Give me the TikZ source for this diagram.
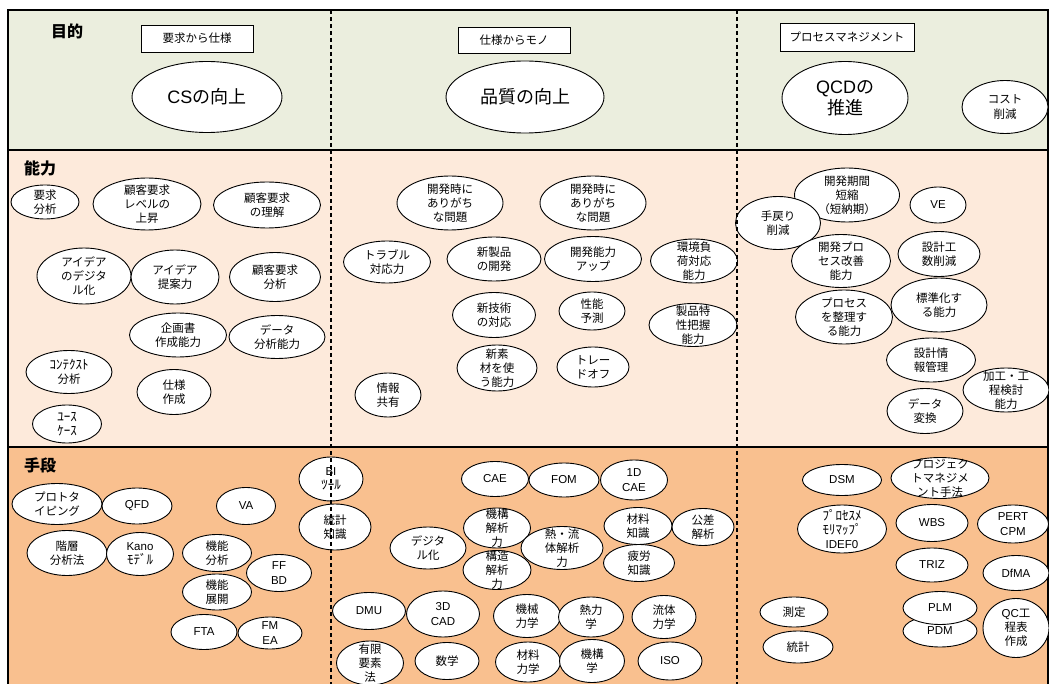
\documentclass[tikz,border=0pt]{standalone}
\usepackage{fontspec}
\setmainfont{Noto Sans CJK JP}
\newfontfamily\latf{Liberation Sans}
\usetikzlibrary{shapes.geometric}
\definecolor{bandA}{HTML}{EBEEDE}
\definecolor{bandB}{HTML}{FDEADB}
\definecolor{bandC}{HTML}{F9C08F}
\newcommand\La[1]{{\latf #1}}
\newcommand\hw[1]{{\fontsize{13}{13.5}\selectfont #1}}
\tikzset{
  elshape/.style={ellipse, draw=black, fill=white, line width=0.9pt, inner sep=0pt},
  eltext/.style={align=center, inner sep=0pt, font=\fontsize{11.5}{14.2}\selectfont},
  bigtext/.style={align=center, inner sep=0pt, font=\fontsize{18}{21}\selectfont},
  tagbox/.style={rectangle, draw=black, fill=white, line width=0.9pt, inner sep=0pt, font=\fontsize{11.5}{14}\selectfont},
  head/.style={inner sep=0pt, font=\bfseries\fontsize{16}{18}\selectfont},
  frameline/.style={line width=1.4pt, black},
  divider/.style={line width=1.2pt, black, dash pattern=on 4pt off 3pt},
}
% name, x, y, width, height, text
\newcommand\elnode[6]{%
  \node[elshape, minimum width=#4pt, minimum height=#5pt] (#1) at (#2,#3) {};
  \node[eltext] (#1t) at (#1.center) {#6};}
\newcommand\bignode[6]{%
  \node[elshape, minimum width=#4pt, minimum height=#5pt] (#1) at (#2,#3) {};
  \node[bigtext] (#1t) at (#1.center) {#6};}
\begin{document}
\begin{tikzpicture}[x=1pt,y=-1pt]
\useasboundingbox (0,0) rectangle (1049,684);
\begin{scope}
\clip (0,0) rectangle (1049,684);
% bands
\fill[bandA] (8,10) rectangle (1048,150);
\fill[bandB] (8,150) rectangle (1048,447);
\fill[bandC] (8,447) rectangle (1048,690);
\draw[frameline] (8,690) -- (8,10) -- (1048,10) -- (1048,690);
\draw[frameline] (8,150) -- (1048,150);
\draw[frameline] (8,447) -- (1048,447);

% headings
\node[head] (h1) at (67,31) {目的};
\node[head] (h2) at (40,168) {能力};
\node[head] (h3) at (40,465) {手段};

% purpose row
\node[tagbox, minimum width=112pt, minimum height=27pt] (t1) at (197,38.5) {要求から仕様};
\node[tagbox, minimum width=112pt, minimum height=26pt] (t2) at (514,40) {仕様からモノ};
\node[tagbox, minimum width=134pt, minimum height=28pt] (t3) at (847,37) {プロセスマネジメント};
\bignode{cs}{207}{97}{150}{71}{\La{CS}の向上}
\bignode{hq}{525}{97}{158}{72}{品質の向上}
\bignode{qcd}{845}{98}{126}{73}{\La{QCD}の\\推進}
\elnode{cost}{1005}{107}{86}{53}{コスト\\削減}

% ability row, left column
\elnode{a1}{45}{202}{68}{34}{要求\\分析}
\elnode{a2}{147}{204}{108}{52}{顧客要求\\レベルの\\上昇}
\elnode{a3}{267}{205}{107}{46}{顧客要求\\の理解}
\elnode{a4}{84}{276}{94}{56}{アイデア\\のデジタ\\ル化}
\elnode{a5}{175}{277}{88}{54}{アイデア\\提案力}
\elnode{a6}{275}{277}{91}{49}{顧客要求\\分析}
\elnode{a7}{178}{335}{97}{44}{企画書\\作成能力}
\elnode{a8}{277}{337}{96}{43}{データ\\分析能力}
\elnode{a9}{69}{372}{86}{43}{\hw{ｺﾝﾃｸｽﾄ}\\分析}
\elnode{a10}{174}{392}{74}{45}{仕様\\作成}
\elnode{a11}{67}{424}{69}{38}{\hw{ﾕｰｽ}\\\hw{ｹｰｽ}}

% ability row, middle column
\elnode{b1}{450}{203}{106}{54}{開発時に\\ありがち\\な問題}
\elnode{b2}{593}{203}{106}{54}{開発時に\\ありがち\\な問題}
\elnode{b3}{387}{262}{87}{42}{トラブル\\対応力}
\elnode{b4}{494}{259}{94}{44}{新製品\\の開発}
\elnode{b5}{593}{259}{97}{45}{開発能力\\アップ}
\elnode{b6}{694}{261}{87}{44}{環境負\\荷対応\\能力}
\elnode{b7}{494}{315}{83}{45}{新技術\\の対応}
\elnode{b8}{592}{311}{66}{38}{性能\\予測}
\elnode{b9}{693}{325}{88}{43}{製品特\\性把握\\能力}
\elnode{b10}{497}{368}{80}{46}{新素\\材を使\\う能力}
\elnode{b11}{593}{367}{72}{40}{トレー\\ドオフ}
\elnode{b12}{388}{395}{66}{44}{情報\\共有}

% ability row, right column
\elnode{c1}{847}{195}{105}{54}{開発期間\\短縮\\（短納期）}
\elnode{c2}{778}{223}{85}{53}{手戻り\\削減}
\elnode{c3}{938}{205}{56}{36}{\La{VE}}
\elnode{c4}{841}{261}{99}{53}{開発プロ\\セス改善\\能力}
\elnode{c5}{939}{254}{82}{45}{設計工\\数削減}
\elnode{c6}{844}{317}{97}{54}{プロセス\\を整理す\\る能力}
\elnode{c7}{939}{305}{96}{54}{標準化す\\る能力}
\elnode{c8}{931}{360}{89}{44}{設計情\\報管理}
\elnode{c9}{1006}{390}{86}{44}{加工・工\\程検討\\能力}
\elnode{c10}{925}{411}{76}{45}{データ\\変換}

% means row, left column
\elnode{m1}{331}{479}{64}{44}{\La{BI}\\\hw{ﾂｰﾙ}}
\elnode{m2}{335}{527}{72}{46}{統計\\知識}
\elnode{m3}{57}{504}{90}{41}{プロトタ\\イピング}
\elnode{m4}{137}{506}{70}{36}{\La{QFD}}
\elnode{m5}{246}{506}{59}{37}{\La{VA}}
\elnode{m6}{67}{553}{80}{45}{階層\\分析法}
\elnode{m7}{140}{554}{67}{43}{\La{Kano}\\\hw{ﾓﾃﾞﾙ}}
\elnode{m8}{217}{553}{69}{37}{機能\\分析}
\elnode{m9}{279}{573}{65}{37}{\La{FF}\\\La{BD}}
\elnode{m10}{217}{592}{69}{36}{機能\\展開}
\elnode{m11}{204}{632}{66}{35}{\La{FTA}}
\elnode{m12}{270}{633}{64}{32}{\La{FM}\\\La{EA}}

% means row, middle column
\elnode{n1}{495}{479}{67}{35}{\La{CAE}}
\elnode{n2}{564}{480}{70}{34}{\La{FOM}}
\elnode{n3}{634}{480}{67}{40}{\La{1D}\\\La{CAE}}
\elnode{n4}{497}{528}{67}{40}{機構\\解析\\力}
\elnode{n5}{428}{548}{76}{42}{デジタ\\ル化}
\elnode{n7}{497}{570}{68}{39}{構造\\解析\\力}
\elnode{n6}{562}{548}{82}{43}{熱・流\\体解析\\力}
\elnode{n8}{638}{526}{68}{37}{材料\\知識}
\elnode{n9}{703}{527}{62}{37}{公差\\解析}
\elnode{n10}{639}{563}{71}{37}{疲労\\知識}
\elnode{n11}{369}{611}{73}{37}{\La{DMU}}
\elnode{n12}{443}{614}{73}{46}{\La{3D}\\\La{CAD}}
\elnode{n13}{527}{616}{67}{43}{機械\\力学}
\elnode{n14}{591}{617}{65}{40}{熱力\\学}
\elnode{n15}{664}{617}{64}{43}{流体\\力学}
\elnode{n16}{370}{663}{67}{44}{有限\\要素\\法}
\elnode{n17}{447}{661}{64}{37}{数学}
\elnode{n18}{528}{662}{65}{40}{材料\\力学}
\elnode{n19}{592}{661}{65}{43}{機構\\学}
\elnode{n20}{670}{661}{64}{38}{\La{ISO}}

% means row, right column
\elnode{p1}{842}{480}{79}{31}{\La{DSM}}
\elnode{p2}{940}{478}{98}{41}{プロジェク\\トマネジメ\\ント手法}
\elnode{p3}{842}{529}{89}{48}{\hw{ﾌﾟﾛｾｽﾒ}\\\hw{ﾓﾘﾏｯﾌﾟ}\\\La{IDEF0}}
\elnode{p4}{932}{523}{72}{37}{\La{WBS}}
\elnode{p5}{1013}{524}{71}{38}{\La{PERT}\\\La{CPM}}
\elnode{p6}{932}{565}{72}{34}{\La{TRIZ}}
\elnode{p7}{1016}{573}{66}{35}{\La{DfMA}}
\elnode{p9}{940}{631}{74}{32}{\La{PDM}}
\elnode{p8}{940}{608}{74}{33}{\La{PLM}}
\elnode{p10}{1016}{628}{66}{59}{\La{QC}工\\程表\\作成}
\elnode{p11}{794}{612}{68}{30}{測定}
\elnode{p12}{798}{647}{70}{32}{統計}

% column dividers
\coordinate (d1top) at (331,10);
\coordinate (d1bot) at (331,690);
\coordinate (d2top) at (737,10);
\coordinate (d2bot) at (737,690);
\draw[divider] (d1top) -- (d1bot);
\draw[divider] (d2top) -- (d2bot);
\end{scope}
\end{tikzpicture}
\end{document}
